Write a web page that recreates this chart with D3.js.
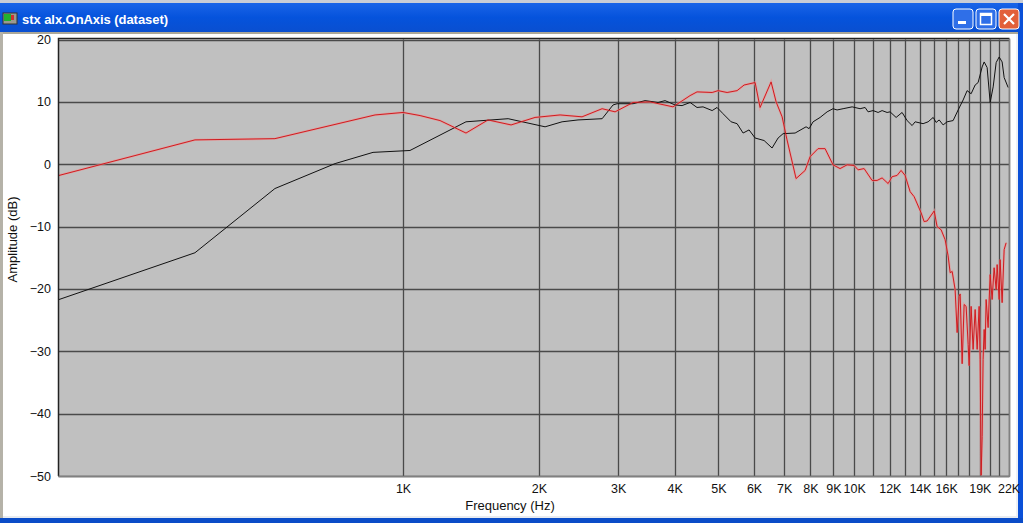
<!DOCTYPE html>
<html><head><meta charset="utf-8">
<script src="https://cdnjs.cloudflare.com/ajax/libs/d3/7.8.5/d3.min.js"></script>
<style>html,body{margin:0;padding:0;background:#fff;overflow:hidden}svg{display:block}text{font-family:"Liberation Sans",Arial,sans-serif}</style>
</head><body><svg id="c" width="1023" height="523"></svg>
<script>
const blackHz=[172.7,345.7,520,707,858,1036,1379,1710,2065,2252,2443,2763,2921,2982,3236,3440,3676,3810,4010,4155,4329,4485,4625,4845,4968,5122,5337,5503,5674,5850,6033,6316,6579,6784,6960,7400,7826,7947,8111,8407,8713,8980,9168,9454,9899,10310,10578,10741,11017,11304,11537,11835,12017,12391,12777,13107,13447,13655,14223,14591,14973,15202,15439,15754,16078,16578,17009,17446,17807,18173,18550,18836,19226,19424,19721,20028,20337,20651,20970,21290,21510,21955];
const blackDb=[-21.7,-14.2,-3.9,0.1,1.9,2.2,6.8,7.3,6.0,6.8,7.1,7.3,9.5,9.7,9.7,10.2,9.9,10.2,9.5,9.4,9.9,9.1,9.2,8.6,9.1,8.1,6.8,6.5,5.0,5.5,4.2,3.8,2.6,4.2,4.9,5.0,6.0,5.7,6.8,7.5,8.4,8.9,8.7,8.9,9.2,8.9,9.1,8.4,8.6,8.3,8.6,8.3,8.4,7.5,8.3,7.0,6.2,6.8,6.5,6.8,7.5,6.7,7.1,6.3,6.8,7.0,8.7,10.3,11.8,11.3,12.7,13.1,15.6,16.4,15.5,9.9,12.4,16.3,17.2,16.4,13.9,12.3];
const redHz=[172.7,345.7,520,867,1000,1091,1208,1379,1543,1736,1962,2229,2494,2763,2952,3236,3529,3968,4329,4485,4845,4994,5229,5503,5703,6033,6188,6546,6716,6925,7101,7436,7788,7987,8319,8623,8980,9309,9650,10000,10207,10524,10962,11246,11537,11896,12143,12454,12711,12974,13311,13585,14080,14298,14519,15050,15276,15590,15914,16160,16330,16497,16749,16922,17095,17185,17360,17537,17716,17899,17989,18173,18360,18550,18742,18934,19030,19128,19226,19320,19424,19520,19620,19820,20028,20230,20437,20651,20755,20970,21070,21290,21510,21730];
const redDb=[-1.8,3.9,4.1,7.9,8.3,7.8,7.0,5.0,7.1,6.3,7.5,7.9,7.6,8.9,8.4,9.9,10.0,9.2,11.0,11.6,11.5,11.8,11.5,11.8,12.7,13.1,9.1,13.2,10.0,7.6,3.9,-2.3,-1.0,1.2,2.5,2.5,-0.1,-0.7,-0.1,-0.2,-0.9,-0.7,-2.6,-2.6,-2.2,-3.1,-2.0,-1.8,-1.0,-1.8,-4.4,-5.2,-7.8,-9.2,-9.1,-7.5,-10.0,-10.5,-12.1,-14.7,-17.4,-17.2,-20.1,-27.0,-21.2,-20.8,-32.0,-22.5,-22.8,-28.9,-32.3,-22.8,-29.7,-23.3,-29.7,-22.8,-31.3,-49.9,-43.7,-31.3,-26.5,-29.7,-21.7,-26.2,-17.7,-21.7,-16.6,-20.1,-16.1,-21.7,-15.3,-22.2,-13.7,-12.6];
const xTickHz=[1000,2000,3000,4000,5000,6000,7000,8000,9000,10000,12000,14000,16000,19000,22000];
const xTickLabels=["1K","2K","3K","4K","5K","6K","7K","8K","9K","10K","12K","14K","16K","19K","22K"];
const xGridHz=[1000,2000,3000,4000,5000,6000,7000,8000,9000,10000,11000,12000,13000,14000,15000,16000,17000,18000,19000,20000,21000,22000];
const yTicks=[20,10,0,-10,-20,-30,-40,-50];
const titleText="stx alx.OnAxis (dataset)";

const L=59,R=1009,T=39.5,B=476;
const svg=d3.select("#c");
const x=d3.scaleLog().domain([172.7,22050]).range([L,R]);
const y=d3.scaleLinear().domain([-50,20]).range([B,T]);

// window chrome
const defs=svg.append("defs");
const g=defs.append("linearGradient").attr("id","tb").attr("x1",0).attr("x2",0).attr("y1",0).attr("y2",1);
g.append("stop").attr("offset",0).attr("stop-color","#1a64e8");
g.append("stop").attr("offset",.5).attr("stop-color","#0553dc");
g.append("stop").attr("offset",1).attr("stop-color","#0a4fd0");
svg.append("rect").attr("x",0).attr("y",0).attr("width",1023).attr("height",3).attr("fill","#c9cdd6");
svg.append("rect").attr("x",0).attr("y",3).attr("width",1023).attr("height",29).attr("fill","url(#tb)");
svg.append("rect").attr("x",0).attr("y",32).attr("width",1023).attr("height",2).attr("fill","#aca899");
svg.append("rect").attr("x",0).attr("y",32).attr("width",3).attr("height",491).attr("fill","#b5b2a8");
svg.append("rect").attr("x",1018).attr("y",3).attr("width",5).attr("height",520).attr("fill","#0a50d8");
svg.append("rect").attr("x",1016).attr("y",34).attr("width",2).attr("height",484).attr("fill","#eef0f4");
svg.append("rect").attr("x",0).attr("y",518).attr("width",1023).attr("height",5).attr("fill","#0a4cc8");
svg.append("rect").attr("x",3).attr("y",516).attr("width",1015).attr("height",2).attr("fill","#e8ebf0");

// icon
svg.append("rect").attr("x",3).attr("y",13).attr("width",14).attr("height",11).attr("fill","#9a9a90").attr("stroke","#333");
svg.append("rect").attr("x",4).attr("y",14).attr("width",7).attr("height",7).attr("fill","#22b030");
svg.append("rect").attr("x",11).attr("y",15).attr("width",3).attr("height",5).attr("fill","#d03030");
svg.append("text").attr("x",22).attr("y",24).attr("fill","#fff").attr("font-weight","700").attr("font-size",13).attr("textLength",146).text(titleText);

// window buttons
const btn=[[953,"#2f6fe8"],[976,"#2f6fe8"],[999,"#e2603a"]];
btn.forEach(([bx,c])=>svg.append("rect").attr("x",bx).attr("y",9).attr("width",20).attr("height",20).attr("rx",3).attr("fill",c).attr("stroke","#fff"));
svg.append("rect").attr("x",958).attr("y",21).attr("width",8).attr("height",3).attr("fill","#fff");
svg.append("rect").attr("x",980.5).attr("y",13.5).attr("width",11).attr("height",11).attr("fill","none").attr("stroke","#fff").attr("stroke-width",1.5);
svg.append("rect").attr("x",980).attr("y",13).attr("width",12).attr("height",3).attr("fill","#fff");
svg.append("path").attr("d","M1004 14L1014 24M1014 14L1004 24").attr("stroke","#fff").attr("stroke-width",2.2);

// plot
svg.append("rect").attr("x",L).attr("y",T).attr("width",R-L).attr("height",B-T).attr("fill","#c0c0c0");
const gridCol="#4a4a4a";
svg.append("g").selectAll("line").data(xGridHz).join("line")
 .attr("x1",d=>Math.round(x(d))+.5).attr("x2",d=>Math.round(x(d))+.5).attr("y1",T).attr("y2",B).attr("stroke",gridCol).attr("stroke-width",1.3);
svg.append("g").selectAll("line").data(yTicks).join("line")
 .attr("x1",L).attr("x2",R).attr("y1",d=>Math.round(y(d))+.5).attr("y2",d=>Math.round(y(d))+.5).attr("stroke",gridCol).attr("stroke-width",1.3);

const line=d3.line().x(d=>x(d[0])).y(d=>y(d[1]));
svg.append("path").datum(d3.zip(redHz,redDb)).attr("d",line).attr("fill","none").attr("stroke","#f09090").attr("stroke-width",2.4).attr("stroke-opacity",.6);
svg.append("path").datum(d3.zip(blackHz,blackDb)).attr("d",line).attr("fill","none").attr("stroke","#111").attr("stroke-width",1);
svg.append("path").datum(d3.zip(redHz,redDb)).attr("d",line).attr("fill","none").attr("stroke","#cf1c20").attr("stroke-width",1);

// frame
svg.append("path").attr("d",`M${L-.5} ${B}V${T-1}H${R+.5}`).attr("fill","none").attr("stroke","#222").attr("stroke-width",1.5);
svg.append("path").attr("d",`M${L-1} ${B+.5}H${R+.5}V${T-1}`).attr("fill","none").attr("stroke","#808080").attr("stroke-width",1.5);

// axes
const xAxis=d3.axisBottom(x).tickValues(xTickHz).tickFormat((d,i)=>xTickLabels[i]).tickSize(0).tickPadding(8);
const ax=svg.append("g").attr("transform",`translate(0,${B})`).call(xAxis);
ax.select(".domain").remove();
ax.selectAll("text").attr("font-size",12.5).attr("fill","#111").style("font-family",'"Liberation Sans",Arial,sans-serif');
const yAxis=d3.axisLeft(y).tickValues(yTicks).tickSize(0).tickPadding(8);
const ay=svg.append("g").attr("transform",`translate(${L},0)`).call(yAxis);
ay.select(".domain").remove();
ay.selectAll("text").attr("font-size",12.5).attr("fill","#111").style("font-family",'"Liberation Sans",Arial,sans-serif');

svg.append("text").attr("x",510).attr("y",510).attr("text-anchor","middle").attr("font-size",13).attr("fill","#111").text("Frequency (Hz)");
svg.append("text").attr("transform","translate(17,239.5) rotate(-90)").attr("text-anchor","middle").attr("font-size",13).attr("fill","#111").text("Amplitude (dB)");
</script></body></html>
